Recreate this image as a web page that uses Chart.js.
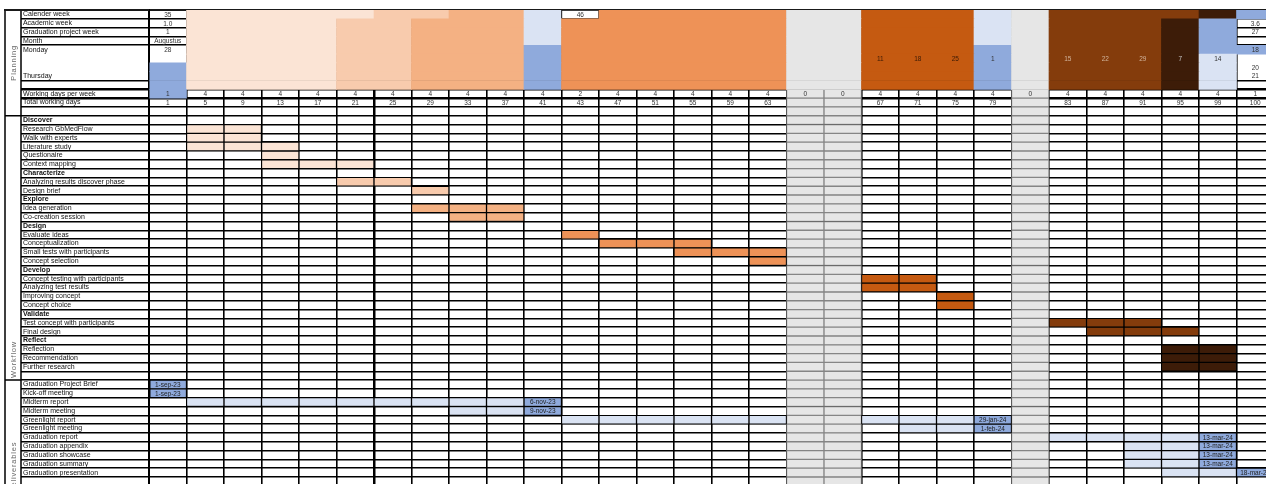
<!DOCTYPE html>
<html><head><meta charset="utf-8">
<script src="https://cdn.jsdelivr.net/npm/chart.js@4"></script>
<style>
html,body{margin:0;padding:0;background:#fff;overflow:hidden;width:1266px;height:484px}
#wrap{position:absolute;left:0;top:0;width:1276px;height:490px}
canvas{display:block}
</style></head><body><div id="wrap"><canvas id="c" width="1276" height="490"></canvas></div>
<script>
// ---------------- data ----------------
const rowLabels = [
 'Calender week','Academic week','Graduation project week','Month','Monday','','','Thursday','',
 'Working days per week','Total working days','',
 'Discover','Research GbMedFlow','Walk with experts','Literature study','Questionaire','Context mapping',
 'Characterize','Analyzing results discover phase','Design brief',
 'Explore','Idea generation','Co-creation session',
 'Design','Evaluate ideas','Conceptualization','Small tests with participants','Concept selection',
 'Develop','Concept testing with participants','Analyzing test results','Improving concept','Concept choice',
 'Validate','Test concept with participants','Final design',
 'Reflect','Reflection','Recommendation','Further research','',
 'Graduation Project Brief','Kick-off meeting','Midterm report','Midterm meeting','Greenlight report',
 'Greenlight meeting','Graduation report','Graduation appendix','Graduation showcase','Graduation summary',
 'Graduation presentation',''
];
const groupHeaders = ['Discover','Characterize','Explore','Design','Develop','Validate','Reflect'];
const sectionNames = ['Planning','Workflow','Deliverables'];
const sectionFirstRow = [0,12,42];

const weekCount = 30;                 // week columns, index 0 = calendar week 35
const holidayWeeks = [17,18,23];
const workingDaysPerWeek = [1,4,4,4,4,4,4,4,4,4,4,2,4,4,4,4,4,0,0,4,4,4,4,0,4,4,4,4,4,1];
const totalWorkingDays   = [1,5,9,13,17,21,25,29,33,37,41,43,47,51,55,59,63,null,null,67,71,75,79,null,83,87,91,95,99,100];

const taskNames = ['Research GbMedFlow','Walk with experts','Literature study','Questionaire','Context mapping',
 'Analyzing results discover phase','Design brief','Idea generation','Co-creation session',
 'Evaluate ideas','Conceptualization','Small tests with participants','Concept selection',
 'Concept testing with participants','Analyzing test results','Improving concept','Concept choice',
 'Test concept with participants','Final design','Reflection','Recommendation','Further research'];
const taskStartWeek = [1,1,1,3,3, 5,7, 7,8, 11,12,14,16, 19,19,21,21, 24,25, 27,27,27];
const taskEndWeek   = [2,2,3,3,5, 6,7, 9,9, 11,14,16,16, 20,20,21,21, 26,27, 28,28,28];
const taskPhase = ['Discover','Discover','Discover','Discover','Discover',
 'Characterize','Characterize','Explore','Explore',
 'Design','Design','Design','Design',
 'Develop','Develop','Develop','Develop',
 'Validate','Validate','Reflect','Reflect','Reflect'];

const deliverableNames = ['Graduation Project Brief','Kick-off meeting','Midterm report','Midterm meeting',
 'Greenlight report','Greenlight meeting','Graduation report','Graduation appendix','Graduation showcase',
 'Graduation summary','Graduation presentation'];
const deliverableWorkStart = [null,null,1,8,11,20,24,26,26,26,27];
const deliverableWorkEnd   = [null,null,9,9,21,21,27,27,27,27,28];
const deliverableDueWeek   = [0,0,10,10,22,22,28,28,28,28,29];
const deliverableDueDate   = ['1-sep-23','1-sep-23','6-nov-23','9-nov-23','29-jan-24','1-feb-24',
 '13-mar-24','13-mar-24','13-mar-24','13-mar-24','18-mar-24'];

// header fills: [first week, last week, first row, last row, kind]
const headerFill = [
 [1,4,0,8,'Discover'],[5,5,0,0,'Discover'],
 [5,5,1,8,'Characterize'],[6,6,0,8,'Characterize'],[7,7,0,0,'Characterize'],
 [7,7,1,8,'Explore'],[8,9,0,8,'Explore'],
 [10,10,0,3,'milestoneWork'],[10,10,4,8,'milestone'],
 [11,11,0,0,'blank'],[11,11,1,8,'Design'],[12,16,0,8,'Design'],
 [19,21,0,8,'Develop'],
 [22,22,0,3,'milestoneWork'],[22,22,4,8,'milestone'],
 [24,26,0,8,'Validate'],[27,27,0,0,'Validate'],[27,27,1,8,'Reflect'],
 [28,28,0,0,'Reflect'],[28,28,1,4,'milestone'],[28,28,5,8,'milestoneWork'],
 [29,29,0,0,'milestone'],[29,29,4,4,'milestone'],
 [0,0,6,9,'milestone']
];
const headerCellWeek = [0,0,0,0,0,11,19,20,21,22,24,25,26,27,28,29,29,29,29,29];
const headerCellRow  = [0,1,2,3,4,0,5,5,5,5,5,5,5,5,5,1,2,4,6,7];
const headerCellText = ['35','1.0','1','Augustus','28','46','11','18','25','1','15','22','29','7','14','3.6','27','18','20','21'];

// ---------------- styles ----------------
const FONT = '"Liberation Sans", Arial, sans-serif';
const fills = {
 Discover:'#fbe4d5', Characterize:'#f8cbad', Explore:'#f4b183', Design:'#ee9257',
 Develop:'#c55a11', Validate:'#843c0c', Reflect:'#3d1c08',
 milestone:'#8faadc', milestoneWork:'#dae3f3', holiday:'#e6e6e6', blank:'#ffffff'
};
const textOn = k => k === 'Validate' ? '#d2b49c' : k === 'Reflect' ? '#c9c9c9' : k === 'Develop' ? '#3b1a06' : '#333';

// ---------------- build ----------------
const rowKeys = rowLabels.map((_, i) => 'row' + i);
const cell = (w, r, span = 1) => ({x: [w, w + span], y: rowKeys[r]});

const taskData = [], taskColors = [];
taskNames.forEach((name, i) => {
  const r = rowLabels.indexOf(name);
  for (let w = taskStartWeek[i]; w <= taskEndWeek[i]; w++) { taskData.push(cell(w, r)); taskColors.push(fills[taskPhase[i]]); }
});

const workData = [], dueData = [];
deliverableNames.forEach((name, i) => {
  const r = rowLabels.indexOf(name);
  if (deliverableWorkStart[i] !== null)
    for (let w = deliverableWorkStart[i]; w <= deliverableWorkEnd[i]; w++)
      if (!holidayWeeks.includes(w)) workData.push(cell(w, r));
  dueData.push(cell(deliverableDueWeek[i], r));
});

const headerRows = 10;
const headerGrid = Array.from({length: headerRows}, () => Array(weekCount).fill(null));
headerFill.forEach(([w0, w1, r0, r1, k]) => { for (let r = r0; r <= r1; r++) for (let w = w0; w <= w1; w++) headerGrid[r][w] = k; });
holidayWeeks.forEach(w => { for (let r = 0; r < 9; r++) headerGrid[r][w] = 'holiday'; });
const headerData = [], headerColors = [], headerBorders = [];
headerGrid.forEach((arr, r) => {
  let w = 0;
  while (w < weekCount) {
    const k = arr[w];
    if (!k) { w++; continue; }
    let e = w; while (e + 1 < weekCount && arr[e + 1] === k) e++;
    headerData.push(cell(w, r, e + 1 - w)); headerColors.push(fills[k]); headerBorders.push(k === 'blank' ? 1 : 0);
    w = e + 1;
  }
});

const holidayData = [];
for (let r = 9; r < rowLabels.length; r++) holidayWeeks.forEach(w => holidayData.push(cell(w, r)));

const hiddenLines = [5,6,7];
const thickLines = [9,10];

// ---------------- plugins ----------------
const tableText = {
  id: 'tableText',
  afterDatasetsDraw(chart) {
    const {ctx, scales: {x, y}} = chart;
    const cx = w => x.getPixelForValue(w + 0.5);
    const cy = r => y.getPixelForValue(r) + 0.5;
    ctx.save();
    ctx.textAlign = 'center'; ctx.textBaseline = 'middle';
    ctx.font = '6.5px ' + FONT;
    const wdRow = rowLabels.indexOf('Working days per week');
    const totRow = rowLabels.indexOf('Total working days');
    for (let w = 0; w < weekCount; w++) {
      ctx.fillStyle = '#333';
      ctx.fillText(String(workingDaysPerWeek[w]), cx(w), cy(wdRow));
      if (totalWorkingDays[w] !== null) ctx.fillText(String(totalWorkingDays[w]), cx(w), cy(totRow));
    }
    headerCellText.forEach((t, i) => {
      const k = headerGrid[headerCellRow[i]][headerCellWeek[i]];
      ctx.fillStyle = textOn(k);
      ctx.fillText(t, cx(headerCellWeek[i]), cy(headerCellRow[i]));
    });
    ctx.fillStyle = '#222';
    deliverableNames.forEach((name, i) => {
      ctx.fillText(deliverableDueDate[i], cx(deliverableDueWeek[i]), cy(rowLabels.indexOf(name)));
    });
    ctx.restore();
  }
};

const sectionsPlugin = {
  id: 'sections',
  afterDraw(chart) {
    const {ctx, chartArea, scales: {y}} = chart;
    const rowH = y.getPixelForValue(1) - y.getPixelForValue(0);
    const rowTop = r => y.getPixelForValue(r) - rowH / 2;
    const outer = 5, inner = y.left, top = chartArea.top, bottom = chart.height;
    ctx.save();
    ctx.strokeStyle = '#000';
    ctx.lineWidth = 1.5;
    ctx.beginPath();
    ctx.moveTo(outer, top); ctx.lineTo(outer, bottom);
    ctx.moveTo(inner, top); ctx.lineTo(inner, bottom);
    sectionFirstRow.slice(1).forEach(r => { ctx.moveTo(outer, rowTop(r)); ctx.lineTo(inner, rowTop(r)); });
    ctx.stroke();
    ctx.lineWidth = 2; ctx.strokeStyle = '#1a1a1a';
    ctx.beginPath(); ctx.moveTo(outer - 1, top); ctx.lineTo(chartArea.left, top); ctx.stroke();

    ctx.fillStyle = '#666';
    ctx.font = '7.5px ' + FONT;
    ctx.letterSpacing = '0.8px';
    ctx.textBaseline = 'middle';
    const xc = (outer + inner) / 2 + 0.5;
    const draw = (text, yy, align) => {
      ctx.save(); ctx.translate(xc, yy); ctx.rotate(-Math.PI / 2);
      ctx.textAlign = align; ctx.fillText(text, 0, 0); ctx.restore();
    };
    draw(sectionNames[0], (rowTop(sectionFirstRow[0]) + rowTop(sectionFirstRow[1])) / 2, 'center');
    draw(sectionNames[1], rowTop(sectionFirstRow[2]) - 2, 'left');
    draw(sectionNames[2], rowTop(sectionFirstRow[2] + 7), 'right');
    ctx.restore();
  }
};

// ---------------- chart ----------------
new Chart(document.getElementById('c'), {
  type: 'bar',
  data: {
    labels: rowKeys,
    datasets: [
      {label: 'Tasks', data: taskData, backgroundColor: taskColors, borderColor: '#000', borderWidth: 1, order: 1},
      {label: 'Deadline', data: dueData, backgroundColor: fills.milestone, borderColor: '#000', borderWidth: 1, order: 2},
      {label: 'Work on deliverable', data: workData, backgroundColor: fills.milestoneWork, borderColor: '#000', borderWidth: 1, order: 3},
      {label: 'Header', data: headerData, backgroundColor: headerColors, borderColor: '#000', borderWidth: headerBorders, order: 5},
      {label: 'Holidays', data: holidayData, backgroundColor: fills.holiday, borderColor: '#858585', borderWidth: 1, order: 8}
    ]
  },
  options: {
    indexAxis: 'y',
    responsive: false,
    animation: false,
    devicePixelRatio: 1,
    events: [],
    layout: {padding: {top: 10, left: 21, right: 2, bottom: 1}},
    datasets: {bar: {barPercentage: 1, categoryPercentage: 1, grouped: false, borderSkipped: false, borderRadius: 0}},
    plugins: {legend: {display: false}, tooltip: {enabled: false}},
    scales: {
      x: {
        type: 'linear', position: 'top', min: 0, max: weekCount,
        afterFit: s => { s.height = 0; },
        ticks: {display: false, stepSize: 1, maxTicksLimit: 100},
        grid: {color: '#000', lineWidth: c => (c.tick && c.tick.value === 6) ? 2.5 : 1.6, drawTicks: false},
        border: {display: true, color: '#1a1a1a', width: 2}
      },
      y: {
        type: 'category', offset: true,
        afterFit: s => { s.width = 128; },
        ticks: {
          autoSkip: false, crossAlign: 'far', color: '#111', padding: 0,
          callback: (v, i) => ' ' + rowLabels[i],
          font: c => ({family: FONT, size: 7, weight: groupHeaders.includes(rowLabels[c.index]) ? 'bold' : 'normal'})
        },
        grid: {
          offset: true, tickLength: 128,
          color: c => hiddenLines.includes(c.index) ? 'rgba(0,0,0,0)' : '#000',
          tickColor: c => hiddenLines.includes(c.index) ? 'rgba(0,0,0,0)' : '#000',
          lineWidth: c => thickLines.includes(c.index) ? 2.5 : 1.5
        },
        border: {display: true, color: '#000', width: 2}
      }
    }
  },
  plugins: [tableText, sectionsPlugin]
});
</script></body></html>
